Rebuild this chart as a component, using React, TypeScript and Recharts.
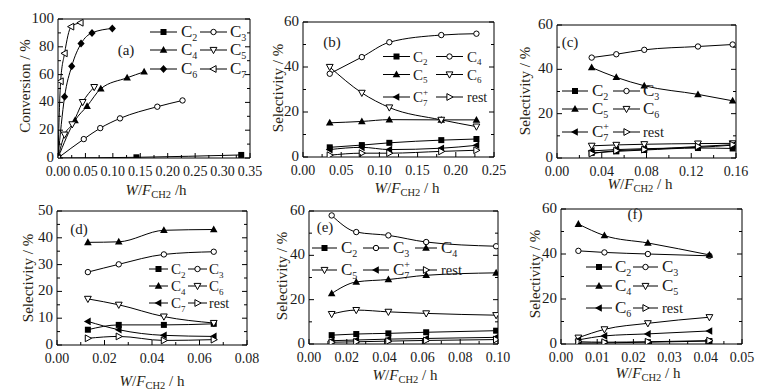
import React from "react";
import { LineChart, Line, XAxis, YAxis, ReferenceArea } from "recharts";

const FONT = '"Liberation Serif", "Times New Roman", serif';
const TXT = "#1a1a1a";
const TITLE = "#2a1f14";

// ---------- data ----------
// panel (a) conversion
const aC2x = [0, 0.143, 0.334];
const aC2y = [0, 0.5, 2.2];
const aC3x = [0, 0.047, 0.077, 0.113, 0.181, 0.227];
const aC3y = [0, 13.6, 21.5, 28.5, 36.9, 41.4];
const aC4x = [0, 0.031, 0.053, 0.078, 0.126, 0.157];
const aC4y = [0, 27, 37.3, 49.8, 57.7, 62];
const aC5x = [0, 0.012, 0.026, 0.045, 0.066];
const aC5y = [0, 16.8, 24.2, 40.2, 51];
const aC6x = [0, 0.012, 0.025, 0.042, 0.062, 0.099];
const aC6y = [0, 44, 66, 82.3, 90, 93.2];
const aC7x = [0, 0.0048, 0.012, 0.024, 0.041];
const aC7y = [0, 55.2, 75.3, 94.5, 97.3];

// panel (b)
const bX = [0.035, 0.077, 0.113, 0.181, 0.227];
const bC2 = [4.3, 5.3, 6.3, 7.5, 8.0];
const bC4 = [37, 44.4, 51, 54.2, 54.8];
const bC5 = [15.2, 15.8, 16.6, 16.5, 16.5];
const bC6 = [40, 28.5, 22, 16.5, 13.5];
const bC7 = [3.3, 4.3, 3.3, 3.9, 5.2];
const bRest = [0.8, 1.7, 1.7, 2.5, 3.0];

// panel (c)
const cX = [0.031, 0.053, 0.078, 0.126, 0.157];
const cC2 = [2.3, 3.0, 3.6, 4.5, 4.3];
const cC3 = [45.3, 46.8, 48.8, 50.3, 51.2];
const cC5 = [40.8, 36.4, 32.6, 28.7, 25.8];
const cC6 = [5.5, 5.9, 6.2, 6.5, 6.6];
const cC7 = [3.2, 3.8, 4.2, 4.8, 5.8];
const cRest = [2.0, 3.3, 3.8, 5.2, 6.0];

// panel (d)
const dX = [0.013, 0.026, 0.045, 0.066];
const dC2 = [5.7, 7.5, 7.5, 7.9];
const dC3 = [27.2, 30.1, 33.8, 34.8];
const dC4 = [38.3, 38.5, 42.8, 43.1];
const dC6 = [17.2, 15.0, 10.6, 8.2];
const dC7 = [8.8, 5.7, 3.6, 3.2];
const dRest = [2.5, 3.2, 1.7, 2.0];

// panel (e)
const eX = [0.012, 0.025, 0.042, 0.062, 0.099];
const eC2 = [4.0, 4.5, 4.8, 5.3, 6.0];
const eC3 = [58, 50.5, 49.0, 46.0, 44.1];
const eC4 = [22.8, 28.0, 29.1, 31.0, 32.1];
const eC5 = [13.5, 15.3, 14.5, 13.8, 13.0];
const eC7 = [1.5, 1.8, 2.2, 2.5, 3.0];
const eRest = [0.8, 1.0, 1.3, 1.6, 2.0];

// panel (f)
const fX = [0.0048, 0.012, 0.024, 0.041];
const fC2 = [0.4, 0.5, 0.8, 1.3];
const fC3 = [41.4, 40.7, 40.0, 39.2];
const fC4 = [53.3, 48.2, 44.9, 39.6];
const fC5 = [2.8, 6.5, 9.2, 11.9];
const fC6 = [1.8, 3.6, 4.5, 5.8];
const fRest = [1.0, 0.8, 1.0, 1.5];

// ticks
const aXMajor = [0, 0.05, 0.1, 0.15, 0.2, 0.25, 0.3, 0.35];
const aYMajor = [0, 20, 40, 60, 80, 100];
const bXMajor = [0, 0.05, 0.1, 0.15, 0.2, 0.25];
const cXMajor = [0, 0.04, 0.08, 0.12, 0.16];
const dXMajor = [0, 0.02, 0.04, 0.06, 0.08];
const eXMajor = [0, 0.02, 0.04, 0.06, 0.08, 0.1];
const fXMajor = [0, 0.01, 0.02, 0.03, 0.04, 0.05];
const sel60Major = [0, 20, 40, 60];
const sel50Major = [0, 10, 20, 30, 40, 50];

// ---------- markers ----------
type Shape = "sq" | "circ" | "up" | "down" | "dia" | "leftO" | "leftF" | "rightO";

function Marker({ cx, cy, shape }: { cx: number; cy: number; shape: Shape }) {
  const k = "#000";
  switch (shape) {
    case "sq":
      return <rect x={cx - 3} y={cy - 3} width={6} height={6} fill={k} />;
    case "circ":
      return <circle cx={cx} cy={cy} r={2.7} fill="#fff" stroke={k} strokeWidth={1} />;
    case "up":
      return <path d={`M${cx},${cy - 4}L${cx + 3.8},${cy + 2.8}L${cx - 3.8},${cy + 2.8}Z`} fill={k} />;
    case "down":
      return (
        <path
          d={`M${cx},${cy + 3.6}L${cx + 3.4},${cy - 2.6}L${cx - 3.4},${cy - 2.6}Z`}
          fill="#fff"
          stroke={k}
          strokeWidth={1}
        />
      );
    case "dia":
      return <path d={`M${cx},${cy - 4}L${cx + 3.6},${cy}L${cx},${cy + 4}L${cx - 3.6},${cy}Z`} fill={k} />;
    case "leftO":
      return (
        <path
          d={`M${cx - 3.6},${cy}L${cx + 2.6},${cy - 3.4}L${cx + 2.6},${cy + 3.4}Z`}
          fill="#fff"
          stroke={k}
          strokeWidth={1}
        />
      );
    case "leftF":
      return <path d={`M${cx - 4},${cy}L${cx + 2.8},${cy - 3.8}L${cx + 2.8},${cy + 3.8}Z`} fill={k} />;
    case "rightO":
      return (
        <path
          d={`M${cx + 3.6},${cy}L${cx - 2.6},${cy - 3.4}L${cx - 2.6},${cy + 3.4}Z`}
          fill="#fff"
          stroke={k}
          strokeWidth={1}
        />
      );
  }
  return null;
}

type Series = { name: string; shape: Shape; xs: number[]; ys: number[] };

const mk = (name: string, shape: Shape, xs: number[], ys: number[]): Series => ({ name, shape, xs, ys });

const near = (arr: number[], v: number) => arr.some((a) => Math.abs(a - v) < 1e-9);

function withMinors(major: number[]) {
  const out: number[] = [];
  for (let i = 0; i < major.length; i++) {
    out.push(major[i]);
    if (i < major.length - 1) out.push((major[i] + major[i + 1]) / 2);
  }
  return out;
}

type PanelProps = {
  frame: [number, number, number, number];
  xDomain: [number, number];
  xMajor: number[];
  yDomain: [number, number];
  yMajor: number[];
  series: Series[];
};

function Panel({ frame, xDomain, xMajor, yDomain, yMajor, series }: PanelProps) {
  const [l, t, r, b] = frame;
  const ML = 50,
    MT = 15,
    MR = 24,
    MB = 30;
  const pw = r - l,
    ph = b - t;
  const W = pw + ML + MR,
    H = ph + MT + MB;
  const plotL = ML,
    plotR = ML + pw,
    plotB = MT + ph;
  const xTicks = withMinors(xMajor);
  const yTicks = withMinors(yMajor);

  const XTick = (p: any) => {
    const v = p.payload.value;
    const major = near(xMajor, v);
    const x = p.x;
    return (
      <g>
        <line x1={x} x2={x} y1={plotB} y2={plotB - (major ? 5 : 3)} stroke="#000" strokeWidth={1} />
        {major && (
          <text x={x} y={plotB + 17.5} textAnchor="middle" fontFamily={FONT} fontSize={14} fill={TXT}>
            {v.toFixed(2)}
          </text>
        )}
      </g>
    );
  };
  const YTick = (p: any) => {
    const v = p.payload.value;
    const major = near(yMajor, v);
    const y = p.y;
    const len = major ? 5 : 3;
    return (
      <g>
        <line x1={plotL} x2={plotL + len} y1={y} y2={y} stroke="#000" strokeWidth={1} />
        <line x1={plotR} x2={plotR - len} y1={y} y2={y} stroke="#000" strokeWidth={1} />
        {major && (
          <text x={plotL - 4} y={y + 4} textAnchor="end" fontFamily={FONT} fontSize={15} fill={TXT}>
            {String(v)}
          </text>
        )}
      </g>
    );
  };

  return (
    <div style={{ position: "absolute", left: l - ML, top: t - MT }}>
      <LineChart width={W} height={H} margin={{ top: MT, right: MR, bottom: 0, left: 0 }}>
        <XAxis
          type="number"
          dataKey="x"
          domain={xDomain}
          ticks={xTicks}
          interval={0}
          tick={XTick}
          tickLine={false}
          axisLine={false}
          height={MB}
          allowDataOverflow
        />
        <YAxis
          type="number"
          domain={yDomain}
          ticks={yTicks}
          interval={0}
          tick={YTick}
          tickLine={false}
          axisLine={false}
          width={ML}
          allowDataOverflow
        />
        <ReferenceArea
          x1={xDomain[0]}
          x2={xDomain[1]}
          y1={yDomain[0]}
          y2={yDomain[1]}
          fill="none"
          fillOpacity={0}
          stroke="#000"
          strokeWidth={1}
          strokeOpacity={1}
          ifOverflow="visible"
        />
        {series.map((s) => (
          <Line
            key={s.name}
            name={s.name}
            data={s.xs.map((x, i) => ({ x, y: s.ys[i] }))}
            dataKey="y"
            type="monotone"
            stroke="#000"
            strokeWidth={1}
            isAnimationActive={false}
            activeDot={false}
            dot={(dp: any) => (
              <g key={`${s.name}-${dp.index}`}>
                <Marker cx={dp.cx} cy={dp.cy} shape={s.shape} />
              </g>
            )}
          />
        ))}
      </LineChart>
    </div>
  );
}

// ---------- overlay text ----------
type LegItem = { sub?: string; sup?: string; text?: string; shape: Shape };

function LegendEntry({
  x1,
  x2,
  tx,
  y,
  item,
  small,
}: {
  x1: number;
  x2: number;
  tx: number;
  y: number;
  item: LegItem;
  small?: boolean;
}) {
  const cSize = small ? 15 : 17;
  const sSize = small ? 9 : 10;
  const cW = small ? 10 : 11.3;
  const subDy = small ? 3.5 : 4;
  return (
    <g>
      <line x1={x1} x2={x2} y1={y} y2={y} stroke="#000" strokeWidth={1} />
      <Marker cx={(x1 + x2) / 2} cy={y} shape={item.shape} />
      {item.text ? (
        <text x={tx} y={y + 4.5} fontFamily={FONT} fontSize={small ? 14 : 14.5} fill={TXT}>
          {item.text}
        </text>
      ) : (
        <text x={tx} y={y + 5} fontFamily={FONT} fontSize={cSize} fill={TXT}>
          <tspan>C</tspan>
          <tspan x={tx + cW} dy={subDy} fontSize={sSize}>
            {item.sub}
          </tspan>
          {item.sup && (
            <tspan x={tx + cW} dy={-11} fontSize={sSize}>
              {item.sup}
            </tspan>
          )}
        </text>
      )}
    </g>
  );
}

function Legend2({
  rows,
  cols,
  small,
}: {
  rows: { y: number; items: LegItem[] }[];
  cols: { x1: number; x2: number; tx: number }[];
  small?: boolean;
}) {
  return (
    <g>
      {rows.map((r, ri) =>
        r.items.map((it, ci) => (
          <LegendEntry
            key={`${ri}-${ci}`}
            x1={cols[ci].x1}
            x2={cols[ci].x2}
            tx={cols[ci].tx}
            y={r.y}
            item={it}
            small={small}
          />
        ))
      )}
    </g>
  );
}

function YTitle({ x, y, text }: { x: number; y: number; text: string }) {
  return (
    <text
      x={x}
      y={y}
      transform={`rotate(-90 ${x} ${y})`}
      textAnchor="middle"
      dominantBaseline="central"
      fontFamily={FONT}
      fontSize={15}
      fill={TITLE}
    >
      {text}
    </text>
  );
}

function XTitle({ x, y, sep }: { x: number; y: number; sep: string }) {
  return (
    <text x={x} y={y + 5} textAnchor="middle" fontFamily={FONT} fontSize={15} fill={TITLE}>
      <tspan fontStyle="italic">W</tspan>
      <tspan>/</tspan>
      <tspan fontStyle="italic">F</tspan>
      <tspan fontSize={10.5} dy={3}>
        CH2
      </tspan>
      <tspan dy={-3}>{sep}</tspan>
    </text>
  );
}

function PanelTag({ x, y, t }: { x: number; y: number; t: string }) {
  return (
    <text x={x} y={y + 5} textAnchor="middle" fontFamily={FONT} fontSize={15} fill={TXT}>
      {t}
    </text>
  );
}

export default function App() {
  const aSeries = [
    mk("C2", "sq", aC2x, aC2y),
    mk("C3", "circ", aC3x, aC3y),
    mk("C4", "up", aC4x, aC4y),
    mk("C5", "down", aC5x, aC5y),
    mk("C6", "dia", aC6x, aC6y),
    mk("C7", "leftO", aC7x, aC7y),
  ];
  const bSeries = [
    mk("C2", "sq", bX, bC2),
    mk("C4", "circ", bX, bC4),
    mk("C5", "up", bX, bC5),
    mk("C6", "down", bX, bC6),
    mk("C7+", "leftF", bX, bC7),
    mk("rest", "rightO", bX, bRest),
  ];
  const cSeries = [
    mk("C2", "sq", cX, cC2),
    mk("C3", "circ", cX, cC3),
    mk("C5", "up", cX, cC5),
    mk("C6", "down", cX, cC6),
    mk("C7+", "leftF", cX, cC7),
    mk("rest", "rightO", cX, cRest),
  ];
  const dSeries = [
    mk("C2", "sq", dX, dC2),
    mk("C3", "circ", dX, dC3),
    mk("C4", "up", dX, dC4),
    mk("C6", "down", dX, dC6),
    mk("C7", "leftF", dX, dC7),
    mk("rest", "rightO", dX, dRest),
  ];
  const eSeries = [
    mk("C2", "sq", eX, eC2),
    mk("C3", "circ", eX, eC3),
    mk("C4", "up", eX, eC4),
    mk("C5", "down", eX, eC5),
    mk("C7+", "leftF", eX, eC7),
    mk("rest", "rightO", eX, eRest),
  ];
  const fSeries = [
    mk("C2", "sq", fX, fC2),
    mk("C3", "circ", fX, fC3),
    mk("C4", "up", fX, fC4),
    mk("C5", "down", fX, fC5),
    mk("C6", "leftF", fX, fC6),
    mk("rest", "rightO", fX, fRest),
  ];

  return (
    <div
      style={{
        position: "fixed",
        left: 0,
        top: 0,
        width: 767,
        height: 390,
        background: "#fff",
        overflow: "hidden",
      }}
    >
      <Panel frame={[58, 19, 250, 158]} xDomain={[0, 0.35]} xMajor={aXMajor} yDomain={[0, 100]} yMajor={aYMajor} series={aSeries} />
      <Panel frame={[303, 22, 494, 157]} xDomain={[0, 0.25]} xMajor={bXMajor} yDomain={[0, 60]} yMajor={sel60Major} series={bSeries} />
      <Panel frame={[557, 25, 736, 158]} xDomain={[0, 0.16]} xMajor={cXMajor} yDomain={[0, 60]} yMajor={sel60Major} series={cSeries} />
      <Panel frame={[57, 211, 247, 345]} xDomain={[0, 0.08]} xMajor={dXMajor} yDomain={[0, 50]} yMajor={sel50Major} series={dSeries} />
      <Panel frame={[309, 211, 498, 344]} xDomain={[0, 0.1]} xMajor={eXMajor} yDomain={[0, 60]} yMajor={sel60Major} series={eSeries} />
      <Panel frame={[561, 209, 742, 344]} xDomain={[0, 0.05]} xMajor={fXMajor} yDomain={[0, 60]} yMajor={sel60Major} series={fSeries} />

      <svg width={767} height={390} style={{ position: "absolute", left: 0, top: 0, pointerEvents: "none" }}>
        {/* axis titles */}
        <YTitle x={25} y={86} text="Conversion / %" />
        <YTitle x={278} y={88} text="Selectivity / %" />
        <YTitle x={525} y={91} text="Selectivity / %" />
        <YTitle x={28} y={278} text="Selectivity / %" />
        <YTitle x={282} y={276} text="Selectivity / %" />
        <YTitle x={535} y={274} text="Selectivity / %" />
        <XTitle x={156} y={190} sep=" /h" />
        <XTitle x={407} y={188} sep=" / h" />
        <XTitle x={640} y={184} sep=" / h" />
        <XTitle x={152} y={381} sep=" / h" />
        <XTitle x={405} y={375} sep=" / h" />
        <XTitle x={648} y={373} sep=" / h" />

        <PanelTag x={126} y={50} t="(a)" />
        <PanelTag x={332} y={42} t="(b)" />
        <PanelTag x={570} y={42} t="(c)" />
        <PanelTag x={79} y={229} t="(d)" />
        <PanelTag x={325} y={227} t="(e)" />
        <PanelTag x={635} y={214} t="(f)" />

        {/* legends */}
        <Legend2
          cols={[
            { x1: 150, x2: 177, tx: 181 },
            { x1: 200, x2: 227, tx: 230 },
          ]}
          rows={[
            { y: 32, items: [{ sub: "2", shape: "sq" }, { sub: "3", shape: "circ" }] },
            { y: 50, items: [{ sub: "4", shape: "up" }, { sub: "5", shape: "down" }] },
            { y: 69, items: [{ sub: "6", shape: "dia" }, { sub: "7", shape: "leftO" }] },
          ]}
        />
        <Legend2
          small
          cols={[
            { x1: 383, x2: 410, tx: 413 },
            { x1: 436, x2: 463, tx: 467 },
          ]}
          rows={[
            { y: 56.5, items: [{ sub: "2", shape: "sq" }, { sub: "4", shape: "circ" }] },
            { y: 74.5, items: [{ sub: "5", shape: "up" }, { sub: "6", shape: "down" }] },
            { y: 97, items: [{ sub: "7", sup: "+", shape: "leftF" }, { text: "rest", shape: "rightO" }] },
          ]}
        />
        <Legend2
          cols={[
            { x1: 562, x2: 588, tx: 592 },
            { x1: 613, x2: 640, tx: 643 },
          ]}
          rows={[
            { y: 91, items: [{ sub: "2", shape: "sq" }, { sub: "3", shape: "circ" }] },
            { y: 109, items: [{ sub: "5", shape: "up" }, { sub: "6", shape: "down" }] },
            { y: 132, items: [{ sub: "7", sup: "+", shape: "leftF" }, { text: "rest", shape: "rightO" }] },
          ]}
        />
        <Legend2
          small
          cols={[
            { x1: 149, x2: 168, tx: 171 },
            { x1: 188, x2: 207, tx: 209 },
          ]}
          rows={[
            { y: 269, items: [{ sub: "2", shape: "sq" }, { sub: "3", shape: "circ" }] },
            { y: 286, items: [{ sub: "4", shape: "up" }, { sub: "6", shape: "down" }] },
            { y: 303, items: [{ sub: "7", shape: "leftF" }, { text: "rest", shape: "rightO" }] },
          ]}
        />
        <Legend2
          cols={[
            { x1: 312, x2: 337, tx: 341 },
            { x1: 363, x2: 389, tx: 393 },
            { x1: 415, x2: 437, tx: 441 },
          ]}
          rows={[
            { y: 248, items: [{ sub: "2", shape: "sq" }, { sub: "3", shape: "circ" }, { sub: "4", shape: "up" }] },
            {
              y: 270,
              items: [
                { sub: "5", shape: "down" },
                { sub: "7", sup: "+", shape: "leftF" },
                { text: "rest", shape: "rightO" },
              ],
            },
          ]}
        />
        <Legend2
          cols={[
            { x1: 586, x2: 612, tx: 615 },
            { x1: 633, x2: 658, tx: 662 },
          ]}
          rows={[
            { y: 267, items: [{ sub: "2", shape: "sq" }, { sub: "3", shape: "circ" }] },
            { y: 286, items: [{ sub: "4", shape: "up" }, { sub: "5", shape: "down" }] },
            { y: 308, items: [{ sub: "6", shape: "leftF" }, { text: "rest", shape: "rightO" }] },
          ]}
        />
      </svg>
    </div>
  );
}
